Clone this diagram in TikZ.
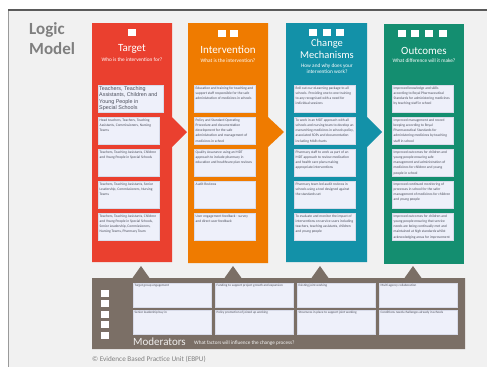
\documentclass[tikz,border=0pt]{standalone}
\usepackage{fontspec}
\setmainfont{Carlito}
\newfontfamily\arialfont{Liberation Sans}
\definecolor{pagegrey}{HTML}{F1F1F1}
\definecolor{framedark}{HTML}{5A5A5A}
\definecolor{frameleft}{HTML}{9A9A9A}
\definecolor{titlegrey}{HTML}{7F7F7F}
\definecolor{colred}{HTML}{EA402F}
\definecolor{colorange}{HTML}{EF7B00}
\definecolor{colteal}{HTML}{1391A8}
\definecolor{colgreen}{HTML}{148E70}
\definecolor{modbrown}{HTML}{7B6F66}
\definecolor{cellfill}{HTML}{EEF0FA}
\definecolor{cellline}{HTML}{D9DCEA}
\definecolor{celltext}{HTML}{4A4D5A}
% fixed-size cell content: width, height, text (top aligned)
\newcommand{\cellbox}[3]{\parbox[c][#2pt][t]{#1pt}{\raggedright #3}}
\tikzset{
  cell/.style={draw=cellline, line width=0.4pt, fill=cellfill, anchor=north west,
    inner sep=1.5pt, text=celltext, font=\fontsize{3.6}{5.2}\selectfont},
  modcell/.style={cell, font=\fontsize{3.3}{4.6}\selectfont},
  hsq/.style={fill=white, draw=none, minimum width=8pt, minimum height=7pt, inner sep=0pt},
  coltitle/.style={text=white, font=\fontsize{11}{12}\selectfont, align=center, inner sep=0pt},
  colsub/.style={text=white, font=\fontsize{5.3}{6.2}\selectfont, align=center, inner sep=0pt},
}
\begin{document}
\begin{tikzpicture}[x=1pt,y=-1pt]
\useasboundingbox (0,0) rectangle (487,367);
% page and frame
\fill[white] (0,0) rectangle (487,367);
\fill[pagegrey] (8,10) rectangle (487,367);
\draw[frameleft, line width=0.8pt] (8,10) -- (8,367);
\draw[framedark, line width=1.6pt] (8,10) -- (487,10);

% heading
\node[anchor=north west, text=titlegrey, font=\bfseries\fontsize{17}{20}\selectfont, align=left, inner sep=0pt] (heading) at (29,22) {Logic\\Model};

% columns with chevrons
\fill[colred] (92,23) -- (172,23) -- (172,117) -- (187,132) -- (172,147) -- (172,262) -- (92,262) -- cycle;
\fill[colorange] (188,23) -- (268,23) -- (268,117) -- (284,132) -- (268,147) -- (268,263) -- (188,263) -- cycle;
\fill[colteal] (286,23) -- (367,23) -- (367,117) -- (382,132) -- (367,147) -- (367,262) -- (286,262) -- cycle;
\fill[colgreen] (384,24) rectangle (464,264);

% header squares
\node[hsq] (sqA1) at (132,32) {};
\node[hsq] (sqB1) at (222,33) {};
\node[hsq] (sqB2) at (234,33) {};
\node[hsq] (sqC1) at (313,32) {};
\node[hsq] (sqC2) at (327,32) {};
\node[hsq] (sqC3) at (340,32) {};
\node[hsq] (sqD1) at (402,33) {};
\node[hsq] (sqD2) at (415,33) {};
\node[hsq] (sqD3) at (429,33) {};
\node[hsq] (sqD4) at (443,33) {};

% titles
\node[coltitle] (tA) at (132,49) {Target};
\node[colsub] (sA) at (132,60) {Who is the intervention for?};
\node[coltitle] (tB) at (228,50) {Intervention};
\node[colsub] (sB) at (228,61) {What is the intervention?};
\node[coltitle, font=\fontsize{10.5}{12}\selectfont] (tC) at (327,49) {Change\\Mechanisms};
\node[colsub] (sC) at (327,69) {How and why does your\\intervention work?};
\node[coltitle] (tD) at (424,51) {Outcomes};
\node[colsub] (sD) at (424,61) {What difference will it make?};

% Target cells
\node[cell, inner sep=1pt, font=\arialfont\fontsize{5.4}{6.5}\selectfont] (a1) at (98,85) {\cellbox{63}{25}{Teachers, Teaching\\Assistants, Children and\\Young People in\\Special Schools}};
\node[cell] (a2) at (98,117) {\cellbox{58}{24}{Head teachers, Teachers, Teaching Assistants, Commissioners, Nursing Teams}};
\node[cell] (a3) at (98,149) {\cellbox{58}{24}{Teachers, Teaching Assistants, Children and Young People in Special Schools}};
\node[cell] (a4) at (98,181) {\cellbox{58}{24}{Teachers, Teaching Assistants, Senior Leadership, Commissioners, Nursing Teams}};
\node[cell] (a5) at (98,213) {\cellbox{58}{24}{Teachers, Teaching Assistants, Children and Young People in Special Schools, Senior Leadership, Commissioners, Nursing Teams, Pharmacy Team}};

% Intervention cells
\node[cell] (b1) at (194,85) {\cellbox{58}{24}{Education and training for teaching and support staff responsible for the safe administration of medicines in schools}};
\node[cell] (b2) at (194,117) {\cellbox{58}{24}{Policy and Standard Operating Procedure and documentation development for the safe administration and management of medicines in school}};
\node[cell] (b3) at (194,149) {\cellbox{58}{24}{Quality Assurance using an MDT approach to include pharmacy in education and healthcare plan reviews}};
\node[cell] (b4) at (194,181) {\cellbox{58}{24}{Audit Reviews}};
\node[cell] (b5) at (194,213) {\cellbox{58}{24}{User engagement feedback - survey and direct user feedback}};

% Change mechanism cells
\node[cell] (c1) at (294,85) {\cellbox{58}{24}{Roll out our eLearning package to all schools. Providing one to one training to any recognised with a need for individual sessions}};
\node[cell] (c2) at (294,117) {\cellbox{58}{24}{To work in an MDT approach with all schools and nursing team to develop an overarching medicines in schools policy, associated SOPs and documentation including MAR charts}};
\node[cell] (c3) at (294,149) {\cellbox{58}{24}{Pharmacy staff to work as part of an MDT approach to review medication and health care plans making appropriate interventions}};
\node[cell] (c4) at (294,181) {\cellbox{58}{24}{Pharmacy team led audit reviews in schools using a tool designed against the standards set}};
\node[cell] (c5) at (294,213) {\cellbox{58}{24}{To evaluate and monitor the impact of interventions on service users including teachers, teaching assistants, children and young people}};

% Outcome cells
\node[cell] (d1) at (392,85) {\cellbox{58}{24}{Improved knowledge and skills according to Royal Pharmaceutical Standards for administering medicines by teaching staff in school}};
\node[cell] (d2) at (392,117) {\cellbox{58}{24}{Improved management and record keeping according to Royal Pharmaceutical Standards for administering medicines by teaching staff in school}};
\node[cell] (d3) at (392,149) {\cellbox{58}{24}{Improved outcomes for children and young people ensuring safe management and administration of medicines for children and young people in school}};
\node[cell] (d4) at (392,181) {\cellbox{58}{24}{Improved continued monitoring of processes in school for the safer management of medicines for children and young people}};
\node[cell] (d5) at (392,213) {\cellbox{58}{24}{Improved outcomes for children and young people ensuring that service needs are being continually met and maintained at high standards whilst acknowledging areas for improvement}};

% moderators band with upward pointers
\fill[modbrown] (92,278) -- (132.5,278) -- (141,266) -- (149.5,278)
  -- (224.5,278) -- (233,266) -- (241.5,278)
  -- (311.5,278) -- (320,266) -- (328.5,278)
  -- (404.5,278) -- (413,266) -- (421.5,278)
  -- (465,278) -- (465,349) -- (92,349) -- cycle;
\foreach \yy [count=\k] in {293,303.5,314,324.5,335} {
  \node[hsq] (msq\k) at (105,\yy) {};
}
\node[modcell] (m1) at (133,283) {\cellbox{75}{21}{Target group engagement}};
\node[modcell] (m2) at (215,283) {\cellbox{75}{21}{Funding to support project growth and expansion}};
\node[modcell] (m3) at (297,283) {\cellbox{75}{21}{Existing joint working}};
\node[modcell] (m4) at (379,283) {\cellbox{75}{21}{Multi agency collaboration}};
\node[modcell] (m5) at (133,310) {\cellbox{75}{21}{Senior leadership buy in}};
\node[modcell] (m6) at (215,310) {\cellbox{75}{21}{Policy promotion of joined up working}};
\node[modcell] (m7) at (297,310) {\cellbox{75}{21}{Structures in place to support joint working}};
\node[modcell] (m8) at (379,310) {\cellbox{75}{21}{Conditions needs challenges already in schools}};
\node[anchor=west, inner sep=0pt, text=white!88!modbrown, font=\fontsize{11}{12}\selectfont] (mtitle) at (133,342) {Moderators};
\node[anchor=west, inner sep=0pt, text=white!92!modbrown, font=\fontsize{5.2}{6}\selectfont] (msub) at (194,343) {What factors will influence the change process?};

% credit line
\node[anchor=west, inner sep=0pt, text=titlegrey, font=\fontsize{7.2}{8}\selectfont] (credit) at (92,359) {© Evidence Based Practice Unit (EBPU)};
\end{tikzpicture}
\end{document}
